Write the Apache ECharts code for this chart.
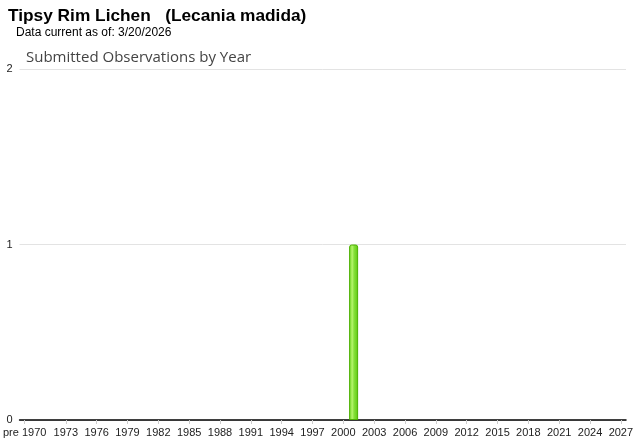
<!DOCTYPE html>
<html><head><meta charset="utf-8">
<style>html,body{margin:0;padding:0;background:#fff;}#c{width:640px;height:442px;}</style>
<script src="https://cdn.jsdelivr.net/npm/echarts@6/dist/echarts.min.js"></script>
</head><body><div id="c"></div>
<script>
const titleText = 'Tipsy Rim Lichen   (Lecania madida)';
const subtitleText = 'Data current as of: 3/20/2026';
const chartLabel = 'Submitted Observations by Year';
const categories = ['pre 1970'];
for (let y = 1970; y <= 2027; y++) categories.push(String(y));
const obsYears = ['2001'];
const obsCounts = [1];
const yTicks = [0, 1, 2];

const values = categories.map(c => { const i = obsYears.indexOf(c); return i >= 0 ? obsCounts[i] : '-'; });
const showIdx = (i) => i === 0 || (i > 1 && (i - 1) % 3 === 0);

const chart = echarts.init(document.getElementById('c'));
chart.setOption({
  animation: false,
  title: [
    { text: titleText, left: 8, top: 8, padding: 0, textStyle: { fontFamily: 'Liberation Sans, Arial', fontSize: 17.3, fontWeight: 'bold', color: '#000' } },
    { text: subtitleText, left: 16, top: 27, padding: 0, textStyle: { fontFamily: 'Liberation Sans, Arial', fontSize: 12, fontWeight: 'normal', color: '#000' } },
    { text: chartLabel, left: 26, top: 50, padding: 0, textStyle: { fontFamily: 'Open Sans, DejaVu Sans', fontSize: 15, fontWeight: 'normal', color: '#444' } }
  ],
  grid: { left: 18, right: 14, top: 69, bottom: 22, containLabel: false },
  xAxis: {
    type: 'category', data: categories,
    axisLine: { lineStyle: { color: '#000', width: 1.5 } },
    axisTick: { show: true, alignWithLabel: true, interval: showIdx, length: 4, lineStyle: { color: '#ccc' } },
    axisLabel: { interval: showIdx, color: '#222', fontFamily: 'Liberation Sans, Arial', fontSize: 11, margin: 7 },
    splitLine: { show: false }
  },
  yAxis: {
    type: 'value', min: yTicks[0], max: yTicks[yTicks.length - 1], interval: 1,
    axisLine: { show: false }, axisTick: { show: false },
    axisLabel: { color: '#222', fontFamily: 'Liberation Sans, Arial', fontSize: 11, margin: 7 },
    splitLine: { lineStyle: { color: '#e3e3e3', width: 1 } }
  },
  series: [{
    type: 'bar', data: values, barWidth: 9, z: 1,
    itemStyle: {
      color: new echarts.graphic.LinearGradient(0, 0, 1, 0, [
        { offset: 0, color: '#6cd41c' },
        { offset: 0.35, color: '#b4f46a' },
        { offset: 0.55, color: '#86e03a' },
        { offset: 1, color: '#5cc80c' }
      ]),
      borderColor: '#4cb000', borderWidth: 1, borderRadius: [2, 2, 0, 0]
    }
  }]
});
</script></body></html>
